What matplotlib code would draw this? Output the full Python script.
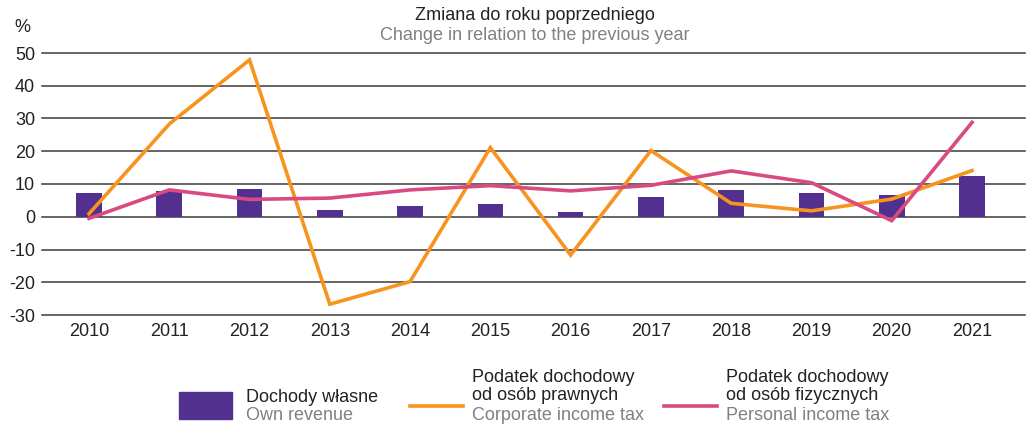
import numpy as np
import matplotlib.pyplot as plt
from matplotlib.patches import Rectangle
from matplotlib.lines import Line2D

plt.rcParams['font.family'] = ['Liberation Sans', 'DejaVu Sans']

years = ['2010', '2011', '2012', '2013', '2014', '2015',
         '2016', '2017', '2018', '2019', '2020', '2021']
own_revenue = [7.2, 8.0, 8.5, 2.1, 3.3, 3.9, 1.5, 6.0, 8.2, 7.2, 6.6, 12.4]
corporate_tax = [0.9, 28.3, 47.9, -26.7, -19.8, 21.1, -11.7, 20.2, 4.1, 1.8, 5.4, 14.1]
personal_tax = [-0.5, 8.2, 5.3, 5.7, 8.2, 9.5, 7.9, 9.6, 14.0, 10.4, -1.2, 28.8]
yticks = [-30, -20, -10, 0, 10, 20, 30, 40, 50]

PURPLE = '#51308f'
ORANGE = '#f7931e'
PINK = '#d94a82'
GREY = '#808080'
DARK = '#222222'
FS = 13

W, H = 1027, 426


def fx(x):
    return x / W


def fy(y):
    return 1 - y / H


fig = plt.figure(figsize=(W / 100, H / 100), dpi=100)
ax = fig.add_axes([fx(42), fy(315), (1025 - 42) / W, (315 - 53) / H])

x = np.arange(len(years))
ax.bar(x, own_revenue, width=0.32, color=PURPLE, zorder=2)
ax.plot(x, corporate_tax, color=ORANGE, lw=2.6, zorder=3, solid_joinstyle='miter')
ax.plot(x, personal_tax, color=PINK, lw=2.6, zorder=4, solid_joinstyle='miter')

for t in yticks:
    ax.axhline(t, color='#3a3a3a', lw=1.1, zorder=1, clip_on=False)

ax.set_ylim(-30, 50)
ax.set_xlim(-0.585, 11.66)
ax.set_yticks(yticks)
ax.set_yticklabels([str(t) for t in yticks])
ax.set_xticks(x)
ax.set_xticklabels(years)
ax.tick_params(axis='both', length=0, labelsize=FS, colors=DARK)
ax.tick_params(axis='y', pad=5)
ax.tick_params(axis='x', pad=6)
for s in ax.spines.values():
    s.set_visible(False)

fig.text(fx(535), fy(15), 'Zmiana do roku poprzedniego', ha='center', va='center',
         fontsize=FS, color=DARK)
fig.text(fx(535), fy(36), 'Change in relation to the previous year', ha='center',
         va='center', fontsize=FS, color=GREY)
fig.text(fx(22), fy(28), '%', ha='center', va='center', fontsize=FS, color=DARK)

# legend
fig.patches.append(Rectangle((fx(179), fy(419)), (232 - 179) / W, (419 - 392) / H,
                             transform=fig.transFigure, color=PURPLE))
fig.lines.append(Line2D([fx(410), fx(463)], [fy(406), fy(406)],
                        transform=fig.transFigure, color=ORANGE, lw=2.6))
fig.lines.append(Line2D([fx(664), fx(717)], [fy(406), fy(406)],
                        transform=fig.transFigure, color=PINK, lw=2.6))

fig.text(fx(246), fy(397), 'Dochody własne', va='center', fontsize=FS, color=DARK)
fig.text(fx(246), fy(415), 'Own revenue', va='center', fontsize=FS, color=GREY)

fig.text(fx(472), fy(377), 'Podatek dochodowy', va='center', fontsize=FS, color=DARK)
fig.text(fx(472), fy(396), 'od osób prawnych', va='center', fontsize=FS, color=DARK)
fig.text(fx(472), fy(415), 'Corporate income tax', va='center', fontsize=FS, color=GREY)

fig.text(fx(726), fy(377), 'Podatek dochodowy', va='center', fontsize=FS, color=DARK)
fig.text(fx(726), fy(396), 'od osób fizycznych', va='center', fontsize=FS, color=DARK)
fig.text(fx(726), fy(415), 'Personal income tax', va='center', fontsize=FS, color=GREY)

fig.savefig('out.png', dpi=100)
